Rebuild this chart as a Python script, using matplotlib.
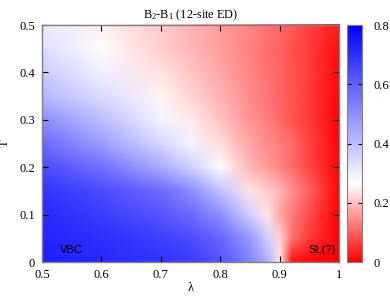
import numpy as np
import matplotlib
matplotlib.use('Agg')
import matplotlib.pyplot as plt
from matplotlib.colors import LinearSegmentedColormap, Normalize
from matplotlib.image import NonUniformImage

plt.rcParams['font.family'] = 'Liberation Serif'
plt.rcParams['mathtext.fontset'] = 'custom'
plt.rcParams['mathtext.rm'] = 'Liberation Serif'
plt.rcParams['mathtext.it'] = 'Liberation Serif:italic'

# grid of the ED data
lam = [0.5, 0.6, 0.7, 0.75, 0.8, 0.85, 0.88, 0.9, 0.92, 0.95, 1.0]
temp = [0.005, 0.05, 0.1, 0.15, 0.2, 0.25, 0.3, 0.35, 0.4, 0.45, 0.49]
# rows follow temp, columns follow lam
b2_b1 = [
    [0.73, 0.715, 0.69, 0.67, 0.62, 0.52, 0.42, 0.24, 0.03, 0.01, 0.0],
    [0.72, 0.70, 0.665, 0.64, 0.58, 0.48, 0.36, 0.22, 0.12, 0.06, 0.002],
    [0.71, 0.67, 0.62, 0.575, 0.50, 0.36, 0.24, 0.17, 0.13, 0.08, 0.003],
    [0.69, 0.64, 0.57, 0.505, 0.39, 0.235, 0.21, 0.19, 0.15, 0.10, 0.005],
    [0.64, 0.56, 0.44, 0.36, 0.27, 0.19, 0.16, 0.14, 0.115, 0.075, 0.005],
    [0.575, 0.47, 0.35, 0.29, 0.225, 0.17, 0.145, 0.13, 0.11, 0.07, 0.005],
    [0.50, 0.40, 0.29, 0.245, 0.20, 0.155, 0.13, 0.11, 0.09, 0.06, 0.005],
    [0.415, 0.34, 0.255, 0.22, 0.185, 0.146, 0.12, 0.105, 0.088, 0.06, 0.008],
    [0.37, 0.30, 0.235, 0.205, 0.175, 0.14, 0.12, 0.105, 0.09, 0.06, 0.01],
    [0.335, 0.265, 0.215, 0.19, 0.165, 0.135, 0.115, 0.10, 0.085, 0.06, 0.015],
    [0.31, 0.25, 0.21, 0.19, 0.165, 0.14, 0.12, 0.11, 0.095, 0.07, 0.025],
]

cmap = LinearSegmentedColormap.from_list(
    'rwb', [(0.0, (1, 0, 0)), (0.265 / 0.8, (1, 1, 1)), (1.0, (0, 0, 1))])
norm = Normalize(0, 0.8)

fig = plt.figure(figsize=(3.9, 2.98), dpi=100)
ax = fig.add_axes([0.1077, 0.1208, 0.762, 0.795])
cax = fig.add_axes([0.890, 0.1208, 0.0385, 0.795])

im = NonUniformImage(ax, interpolation='bilinear',
                     extent=(0.5, 1.0, temp[0], temp[-1]), cmap=cmap, norm=norm)
im.set_data(np.array(lam), np.array(temp), np.array(b2_b1))
ax.add_image(im)
ax.set_xlim(0.5, 1.0)
ax.set_ylim(0, 0.5)

ax.set_xticks([0.5, 0.6, 0.7, 0.8, 0.9, 1.0])
ax.set_xticklabels(['0.5', '0.6', '0.7', '0.8', '0.9', '1'])
ax.set_yticks([0, 0.1, 0.2, 0.3, 0.4, 0.5])
ax.set_yticklabels(['0', '0.1', '0.2', '0.3', '0.4', '0.5'])
ax.tick_params(direction='in', top=True, right=True, length=4, width=0.8,
               labelsize=9, pad=5)
for s in ax.spines.values():
    s.set_color('0.5')
    s.set_linewidth(1.0)

ax.set_xlabel('λ', fontsize=9, labelpad=1)
ax.set_ylabel('T', fontsize=9)
ax.yaxis.set_label_coords(-0.105, 0.5)
ax.set_title('B$_2$-B$_1$ (12-site ED)', fontsize=8.8, pad=5)

ax.text(0.53, 0.025, 'VBC', family='Liberation Sans', fontsize=8, va='center')
ax.text(0.995, 0.025, 'SL(?)', family='Liberation Sans', fontsize=8,
        va='center', ha='right')

cb = fig.colorbar(im, cax=cax)
cb.set_ticks([0, 0.2, 0.4, 0.6, 0.8])
cb.set_ticklabels(['0', '0.2', '0.4', '0.6', '0.8'])
cb.outline.set_edgecolor('0.5')
cax.tick_params(axis='y', direction='in', left=True, right=True, length=3,
                width=0.8, labelsize=9, pad=8)

fig.savefig('out.png', dpi=100)
